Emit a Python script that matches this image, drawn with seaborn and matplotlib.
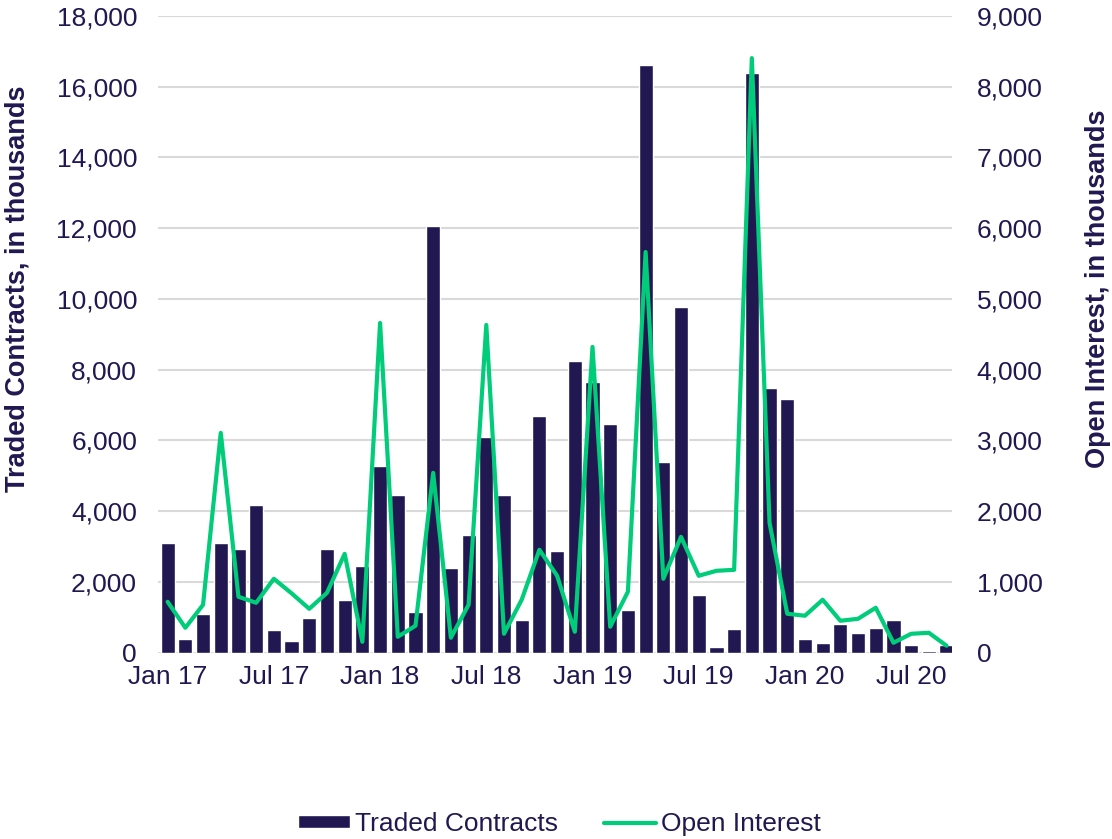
import numpy as np
import pandas as pd
import matplotlib
matplotlib.use("Agg")
import matplotlib.pyplot as plt
import seaborn as sns
from matplotlib.patches import Patch
from matplotlib.lines import Line2D
from matplotlib.ticker import FuncFormatter

# ---------------------------------------------------------
# data (monthly, Jan 2017 - Sep 2020), thousands
# ---------------------------------------------------------
months = pd.date_range("2017-01-01", "2020-09-01", freq="MS").strftime("%b %y").tolist()

traded_contracts = [
    3100, 400, 1100, 3100, 2940, 4180, 630, 340, 990, 2940, 1480, 2460,
    5280, 4460, 1160, 12060, 2400, 3330, 6100, 4460, 930, 6690, 2880, 8250,
    7650, 6470, 1210, 16610, 5400, 9770, 1640, 170, 680, 16380, 7490, 7170,
    395, 280, 820, 565, 700, 930, 225, 60, 225,
]

open_interest = [
    720, 353, 678, 3107, 791, 706, 1045, 840, 621, 847, 1398, 155,
    4661, 226, 381, 2542, 212, 678, 4633, 268, 749, 1455, 1088, 297,
    4322, 367, 862, 5664, 1045, 1638, 1088, 1158, 1172, 8404, 1836, 551,
    523, 749, 452, 480, 636, 141, 268, 282, 99,
]

tick_labels = ["Jan 17", "Jul 17", "Jan 18", "Jul 18", "Jan 19", "Jul 19", "Jan 20", "Jul 20"]

NAVY = "#211851"
GREEN = "#00cc7a"
GRID = "#d9d9d9"


def main():
    sns.set_style("white")
    plt.rcParams["font.family"] = ["Liberation Sans", "DejaVu Sans"]

    df = pd.DataFrame({"month": months, "traded": traded_contracts})
    pos = np.arange(len(months))

    fig = plt.figure(figsize=(11.12, 8.39), dpi=100)
    ax = fig.add_axes([0.142, 0.222, 0.714, 0.759])

    sns.barplot(data=df, x="month", y="traded", color=NAVY, saturation=1,
                width=0.8, ax=ax, zorder=2)
    ax.set_axisbelow(True)
    ax.yaxis.grid(True, color=GRID, linewidth=1.5)
    ax.set_ylim(0, 18000)
    ax.set_yticks(np.arange(0, 18001, 2000))
    ax.yaxis.set_major_formatter(FuncFormatter(lambda v, p: f"{int(v):,}"))
    ax.set_xlim(-0.55, 44.3)
    ax.set_xticks(pos[::6])
    ax.set_xticklabels(tick_labels)
    ax.set_xlabel("")
    ax.set_ylabel("Traded Contracts, in thousands", fontsize=19.5, fontweight="bold",
                  color=NAVY)
    ax.yaxis.set_label_coords(-0.161, 0.571)

    ax2 = ax.twinx()
    sns.lineplot(x=pos, y=open_interest, color=GREEN, linewidth=3, ax=ax2)
    ax2.set_ylim(0, 9000)
    ax2.set_yticks(np.arange(0, 9001, 1000))
    ax2.yaxis.set_major_formatter(FuncFormatter(lambda v, p: f"{int(v):,}"))
    ax2.set_ylabel("Open Interest, in thousands", fontsize=19.5, fontweight="bold",
                   color=NAVY)
    ax2.yaxis.set_label_coords(1.168, 0.571)

    for a in (ax, ax2):
        for s in a.spines.values():
            s.set_visible(False)
        a.tick_params(length=0, labelsize=19, colors=NAVY)
    ax.tick_params(axis="y", pad=15)
    ax.tick_params(axis="x", pad=9)
    ax2.tick_params(axis="y", pad=18)

    handles = [Patch(facecolor=NAVY, label="Traded Contracts"),
               Line2D([0], [0], color=GREEN, linewidth=3, label="Open Interest")]
    fig.legend(handles=handles, loc="center", bbox_to_anchor=(0.503, 0.018), ncol=2,
               frameon=False, fontsize=19, labelcolor=NAVY, handlelength=1.97,
               handleheight=0.35, columnspacing=1.75, handletextpad=0.2)

    fig.savefig("out.png", dpi=100)


if __name__ == "__main__":
    main()
